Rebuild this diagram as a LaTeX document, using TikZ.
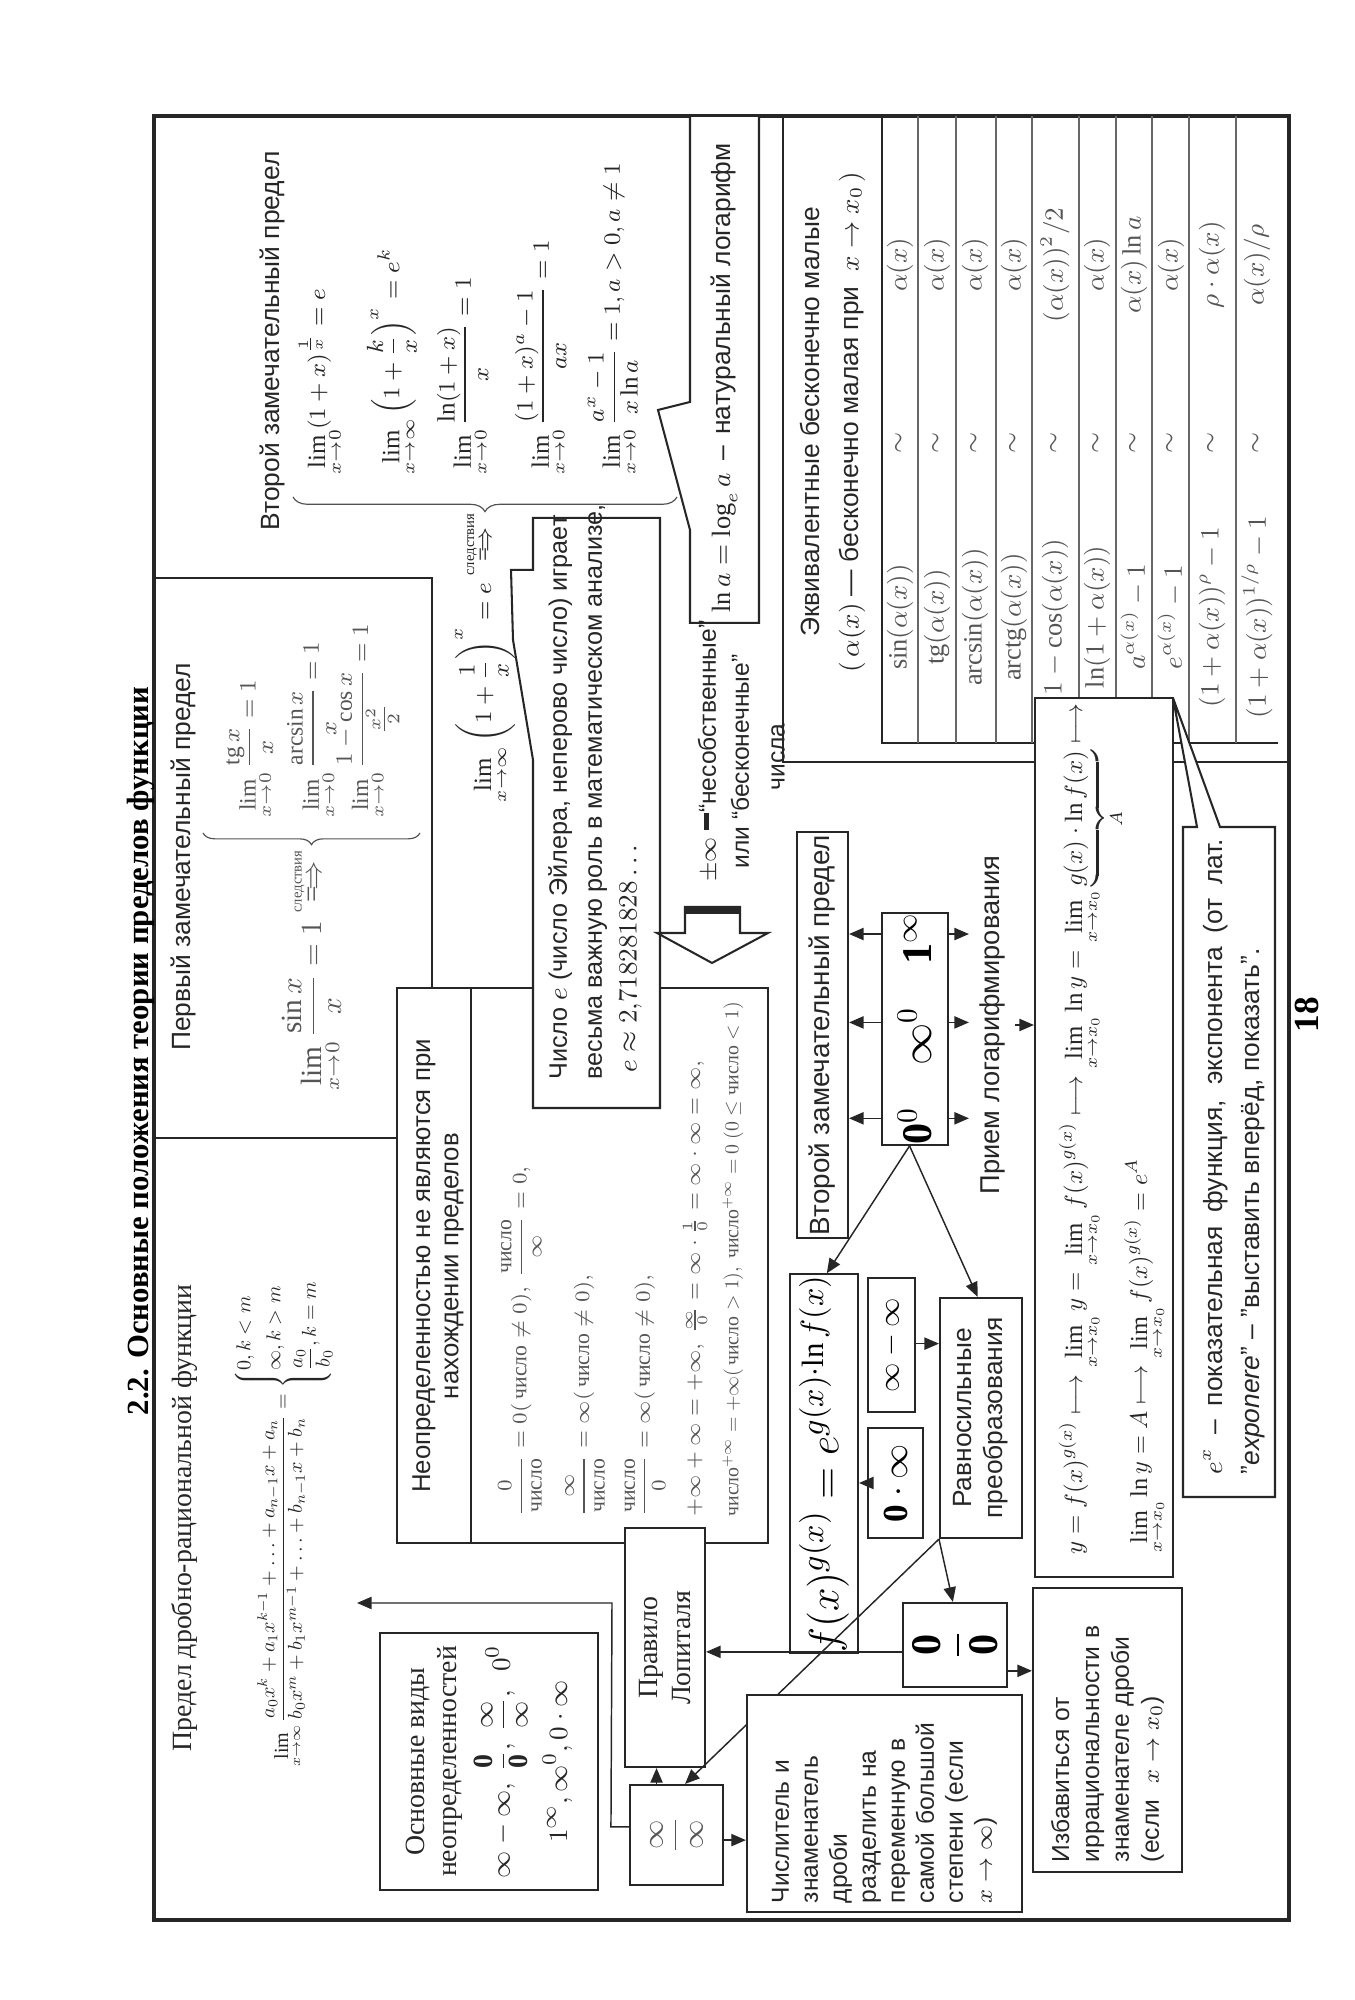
\documentclass[tikz,border=0pt]{standalone}
\usepackage{amsmath,amssymb}
\usepackage{fontspec}
\setmainfont{Liberation Serif}
\setsansfont{Liberation Sans}
\usetikzlibrary{calc,arrows.meta,decorations.pathreplacing}
\definecolor{ink}{HTML}{262626}
\definecolor{faint}{HTML}{555555}
\newcommand{\chs}{\text{число}}

\tikzset{
  wh/.style 2 args={minimum width=\fpeval{#1*0.012}cm, minimum height=\fpeval{#2*0.012}cm},
  box/.style={draw=ink, line width=0.7pt, fill=white, inner sep=0pt},
  arr/.style={draw=ink, line width=0.5pt, -{Triangle[length=5pt,width=4.2pt]}},
  lbl/.style={font=\sffamily\fontsize{9}{10.5}\selectfont, text=ink},
  rlbl/.style={font=\fontsize{9.5}{11}\selectfont, text=ink},
  fml/.style={text=faint, inner sep=0pt},
  brc/.style={draw=ink!80, line width=0.4pt, decorate, decoration={brace, amplitude=#1}},
}

\begin{document}
\begin{tikzpicture}[x=0.012cm, y=0.012cm]
\useasboundingbox (0,0) rectangle (1354,2000);
\begin{scope}[rotate=90, transform shape]

% frame, title, page number
\draw[ink, line width=1.1pt] (80,-1289) rectangle (1884,-154);
\node[font=\bfseries\fontsize{10.5}{12}\selectfont, anchor=base] (ttl) at (949,-148) {2.2. Основные положения теории пределов функции};
\node[font=\bfseries\fontsize{12}{14}\selectfont] (pgno) at (985,-1307) {18};

% rational function limit
\node[rlbl] (pdt) at (482,-185) {Предел дробно-рациональной функции};
\node[anchor=west, inner sep=0pt, text=ink] (pdf) at (233,-283) {\resizebox{5.96cm}{!}{$\displaystyle\lim_{x\to\infty}\frac{a_0x^k+a_1x^{k-1}+\ldots+a_{n-1}x+a_n}{b_0x^m+b_1x^{m-1}+\ldots+b_{n-1}x+b_n}=\left\{\begin{array}{@{}l}0,k<m\\[3pt]\infty,k>m\\[3pt]\dfrac{a_0}{b_0},k=m\end{array}\right.$}};

% first remarkable limit
\draw[ink, line width=0.7pt] (862,-432) rectangle (1422,-155);
\node[lbl] (pzt) at (1143,-183) {Первый замечательный предел};
\node[fml, anchor=east] (pzl) at (1150,-312) {$\displaystyle\lim_{x\to0}\frac{\sin x}{x}=1\overset{\text{\tiny следствия}}{\Longrightarrow}$};
\draw[brc=4pt] (1167,-420) -- (1167,-203);
\foreach \yy/\fm [count=\i] in {
  250/{\lim_{x\to0}\frac{\mathrm{tg}\,x}{x}=1},
  312/{\lim_{x\to0}\frac{\arcsin x}{x}=1},
  368/{\lim_{x\to0}\frac{1-\cos x}{\frac{x^2}{2}}=1}}
  \node[fml, anchor=west, font=\footnotesize] (pr\i) at (1182,-\yy) {$\displaystyle\fm$};

% second remarkable limit
\node[lbl] (vzt) at (1659,-272) {Второй замечательный предел};
\node[anchor=east, inner sep=0pt, text=ink, font=\fontsize{8.5}{10}\selectfont] (vzl) at (1487,-485) {$\displaystyle\lim_{x\to\infty}\left(1+\frac{1}{x}\right)^{x}=e\overset{\text{\tiny следствия}}{\Longrightarrow}$};
\draw[brc=5pt] (1503,-677) -- (1503,-293);
\foreach \yy/\fm [count=\i] in {
  321/{\lim_{x\to0}(1+x)^{\frac{1}{x}}=e},
  392/{\lim_{x\to\infty}\Big(1+\frac{k}{x}\Big)^{x}=e^{k}},
  463/{\lim_{x\to0}\frac{\ln(1+x)}{x}=1},
  541/{\lim_{x\to0}\frac{(1+x)^{a}-1}{ax}=1},
  613/{\lim_{x\to0}\frac{a^{x}-1}{x\ln a}=1,a>0,a\ne1}}
  \node[anchor=west, inner sep=0pt, text=ink, font=\fontsize{8.5}{10}\selectfont] (vr\i) at (1525,-\yy) {$\displaystyle\fm$};

% improper-number rules
\node[box, wh={555}{371}] (neo) at (734.5,-582.5) {};
\draw[ink, line width=0.7pt] ($(neo.north west)!0.202!(neo.south west)$) -- ($(neo.north east)!0.202!(neo.south east)$);
\node[lbl, align=center, font=\sffamily\fontsize{8.8}{9.6}\selectfont] (neoh) at (734,-438) {Неопределенностью не являются при\\нахождении пределов};
\node[fml, anchor=west, font=\fontsize{7.4}{9}\selectfont] (n1) at (483,-520) {$\dfrac{0}{\chs}=0(\,\chs\ne0),\ \dfrac{\chs}{\infty}=0,$};
\node[fml, anchor=west, font=\fontsize{7.4}{9}\selectfont] (n2) at (483,-585) {$\dfrac{\infty}{\chs}=\infty(\,\chs\ne0),$};
\node[fml, anchor=west, font=\fontsize{7.4}{9}\selectfont] (n3) at (483,-645) {$\dfrac{\chs}{0}=\infty(\,\chs\ne0),$};
\node[fml, anchor=west, font=\fontsize{7.4}{9}\selectfont] (n4) at (483,-695) {$+\infty+\infty=+\infty,\ \frac{\infty}{0}=\infty\cdot\frac{1}{0}=\infty\cdot\infty=\infty,$};
\node[fml, anchor=west] (n5) at (483,-733) {\resizebox{6.17cm}{!}{$\chs^{+\infty}=+\infty(\,\chs>1),\ \chs^{+\infty}=0\ (0\le\chs<1)$}};

% Euler number callout
\draw[ink, line width=0.7pt, fill=white] (892,-533) -- (1240,-533) -- (1360,-513) -- (1430,-511) -- (1430,-533) -- (1482,-533) -- (1482,-660) -- (892,-660) -- cycle;
\node[lbl, anchor=west, align=left, font=\sffamily\fontsize{8.6}{11.9}\selectfont] (cen) at (910,-595) {Число $e$ (число Эйлера, неперово число) играет\\весьма важную роль в математическом анализе,\\\ $e\approx2{,}718281828\ldots$};

% natural log callout
\draw[ink, line width=0.7pt, fill=white] (1377,-690) -- (1470,-690) -- (1590,-658) -- (1598,-690) -- (1884,-690) -- (1884,-759) -- (1377,-759) -- cycle;
\node[lbl] (lna) at (1622,-724) {$\ln a=\log_e a$ \,–\, натуральный логарифм};

% hollow arrow and infinite numbers
\draw[ink, line width=0.7pt, fill=white] (1093,-685) -- (1067,-685) -- (1067,-657) -- (1037,-712) -- (1067,-768) -- (1067,-740) -- (1093,-740) -- cycle;
\fill[ink] (1086,-685) rectangle (1093,-740);
\node[lbl, anchor=west, font=\sffamily\fontsize{8.4}{10}\selectfont] (pm1) at (1108,-708) {$\pm\infty$ \rule[2.4pt]{6pt}{1.5pt}“несобственные”};
\node[lbl, anchor=west, font=\sffamily\fontsize{8.4}{10}\selectfont] (pm2) at (1121,-740) {или “бесконечные”};

% equivalent infinitesimals
\draw[ink, line width=0.7pt] (1238,-1288) rectangle (1884,-783);
\node[lbl] (eqt1) at (1578,-810) {Эквивалентные бесконечно малые};
\node[lbl] (eqt2) at (1578,-852) {$(\,\alpha(x)$ — бесконечно малая при \ $x\to x_0\,)$};
\node[lbl, font=\sffamily\fontsize{8.4}{10}\selectfont] (pm3) at (1243,-778) {числа};
\draw[ink, line width=0.6pt] (1884,-882) -- (1257,-882) -- (1257,-1278);
\foreach \yy in {918,956,996,1032,1079,1116,1152,1189,1236}
  \draw[ink!70, line width=0.4pt] (1257,-\yy) -- (1884,-\yy);
\foreach \yy/\fn/\eqv [count=\i] in {
  900/{\sin(\alpha(x))}/{\alpha(x)},
  937/{\mathrm{tg}(\alpha(x))}/{\alpha(x)},
  975/{\arcsin(\alpha(x))}/{\alpha(x)},
  1014/{\mathrm{arctg}(\alpha(x))}/{\alpha(x)},
  1055/{1-\cos(\alpha(x))}/{(\alpha(x))^2/2},
  1097/{\ln(1+\alpha(x))}/{\alpha(x)},
  1134/{a^{\alpha(x)}-1}/{\alpha(x)\ln a},
  1171/{e^{\alpha(x)}-1}/{\alpha(x)},
  1212/{(1+\alpha(x))^{\rho}-1}/{\rho\cdot\alpha(x)},
  1257/{(1+\alpha(x))^{1/\rho}-1}/{\alpha(x)/\rho}}{
  \node[fml, font=\small] (fn\i) at (1383,-\yy) {$\fn$};
  \node[fml, font=\small] (sm\i) at (1557,-\yy) {$\sim$};
  \node[fml, font=\small] (ev\i) at (1735,-\yy) {$\eqv$};
}

% logarithm method
\node[box, wh={879}{138}] (ybox) at (862.5,-1104) {};
\node[anchor=base west, inner sep=0pt, text=ink] (yl1) at (445,-1082) {\resizebox{10.2cm}{!}{$\displaystyle y=f(x)^{g(x)}\longmapsto\lim_{x\to x_0}y=\lim_{x\to x_0}f(x)^{g(x)}\longmapsto\lim_{x\to x_0}\ln y=\lim_{x\to x_0}\underbrace{g(x)\cdot\ln f(x)}_{A}\longmapsto$}};
\node[anchor=base west, inner sep=0pt, text=ink] (yl2) at (447,-1147) {\resizebox{4.72cm}{!}{$\displaystyle\lim_{x\to x_0}\ln y=A\longmapsto\lim_{x\to x_0}f(x)^{g(x)}=e^{A}$}};

% exponent callout
\draw[ink, line width=0.7pt, fill=white] (503,-1183) -- (1173,-1183) -- (1173,-1197) -- (1302,-1173) -- (1173,-1220) -- (1173,-1275) -- (503,-1275) -- cycle;
\node[lbl, anchor=base west, inner sep=0pt] (exl1) at (525,-1222) {\makebox[7.62cm][s]{$e^x$ – показательная функция, экспонента (от лат.}};
\node[lbl, anchor=base west, inner sep=0pt] (exl2) at (525,-1259) {"\textit{exponere}" – "выставить вперёд, показать".};

% indeterminate forms
\node[box, wh={406}{51}, lbl, font=\sffamily\fontsize{9.5}{11}\selectfont] (vz) at (965,-822.5) {Второй замечательный предел};
\node[box, wh={212}{66}, font=\Large] (zz) at (971,-915) {$\mathbf{0}^{0}\quad\infty^{0}\quad\mathbf{1}^{\infty}$};
\node[lbl, font=\sffamily\fontsize{9.3}{11}\selectfont] (prl) at (975,-992) {Прием логарифмирования};
\node[box, wh={373}{68}, font=\fontsize{15}{18}\selectfont] (fbox) at (536.5,-824) {$f(x)^{g(x)}=e^{g(x)\cdot\ln f(x)}$};
\node[box, wh={134}{47}] (mm) at (655,-891.5) {$\infty-\infty$};
\node[box, wh={110}{55}, font=\large] (zi) at (517,-895.5) {$\mathbf{0}\cdot\infty$};
\node[box, wh={240}{82}, lbl, align=center] (rav) at (582,-981) {Равносильные\\преобразования};
\node[box, wh={84}{104}, font=\Large] (zd) at (355,-955) {$\dfrac{\mathbf{0}}{\mathbf{0}}$};
\node[box, wh={284}{149}, text width=\fpeval{264*0.012}cm, inner xsep=\fpeval{10*0.012}cm, align=left, font=\sffamily\fontsize{8.4}{10.2}\selectfont, text=ink] (izb) at (270,-1107.5) {Избавиться от\\иррациональности в\\знаменателе дроби\\(если \ $x\to x_0$)};
\node[box, wh={100}{93}, text=faint] (ii) at (165,-676.5) {$\dfrac{\infty}{\infty}$};
\node[box, rlbl, wh={239}{80}, align=center] (lop) at (352.5,-665) {Правило\\Лопиталя};
\node[box, rlbl, wh={257}{218}, align=center] (osn) at (238.5,-489) {Основные виды\\неопределенностей\\[3pt]$\infty-\infty,\ \dfrac{\mathbf{0}}{\mathbf{0}},\ \dfrac{\infty}{\infty},\ \ 0^0$\\[4pt]$1^{\infty},\infty^{0},0\cdot\infty$};

% connectors
\foreach \t in {0.118,0.528,0.906}{
  \draw[arr] ($(zz.north west)!\t!(zz.north east)$) coordinate (s) -- ($(vz.south west)!(s)!(vz.south east)$);
  \draw[arr] ($(zz.south west)!\t!(zz.south east)$) coordinate (s) -- ($(prl.north west)!(s)!(prl.north east)$);
}
\draw[arr] ($(prl.south west)!0.5!(prl.south east)$) coordinate (s) -- ($(ybox.north west)!(s)!(ybox.north east)$);
\coordinate (zzw) at ($(zz.north west)!0.42!(zz.south west)$);
\draw[arr] (zzw) -- ($(fbox.north east)!0.54!(fbox.south east)$);
\draw[arr] (zzw) -- ($(rav.north east)!0.46!(rav.south east)$);
\draw[arr] ($(mm.south west)!0.51!(mm.south east)$) coordinate (s) -- ($(rav.north west)!(s)!(rav.north east)$);
\draw[arr] ($(zi.north west)!0.5!(zi.north east)$) coordinate (s) -- ($(fbox.south west)!(s)!(fbox.south east)$);
\draw[arr] (rav.north west) -- ($(zd.north east)!0.48!(zd.south east)$);
\draw[arr] (rav.north west) -- ($(ii.north east)!0.59!(ii.south east)$);
\draw[arr] ($(zd.north west)!0.42!(zd.north east)$) coordinate (s) -- ($(lop.south west)!(s)!(lop.south east)$);
\draw[arr] ($(zd.south west)!0.2!(zd.south east)$) coordinate (s) -- ($(izb.north west)!(s)!(izb.north east)$);
\draw[arr] ($(ii.north east)!0.29!(ii.south east)$) coordinate (s) -- ($(lop.north west)!(s)!(lop.south west)$);
\coordinate (bnd) at (397,-612);
\coordinate (pdtip) at (397,-357);
\draw[arr] ($(ii.north west)!0.58!(ii.north east)$) -- ++(0,18) -- (bnd) -- (pdtip);

% numerator / denominator box (drawn over the long connector)
\node[box, wh={217}{275}, text width=\fpeval{199*0.012}cm, inner xsep=\fpeval{9*0.012}cm, align=left, font=\sffamily\fontsize{8.4}{9.9}\selectfont, text=ink] (chis) at (196.5,-884.5) {Числитель и\\знаменатель\\дроби\\разделить на\\переменную в\\самой большой\\степени (если\\$x\to\infty$)};
\draw[arr] ($(ii.south west)!0.45!(ii.south east)$) coordinate (s) -- ($(chis.north west)!(s)!(chis.north east)$);

\end{scope}
\end{tikzpicture}
\end{document}
